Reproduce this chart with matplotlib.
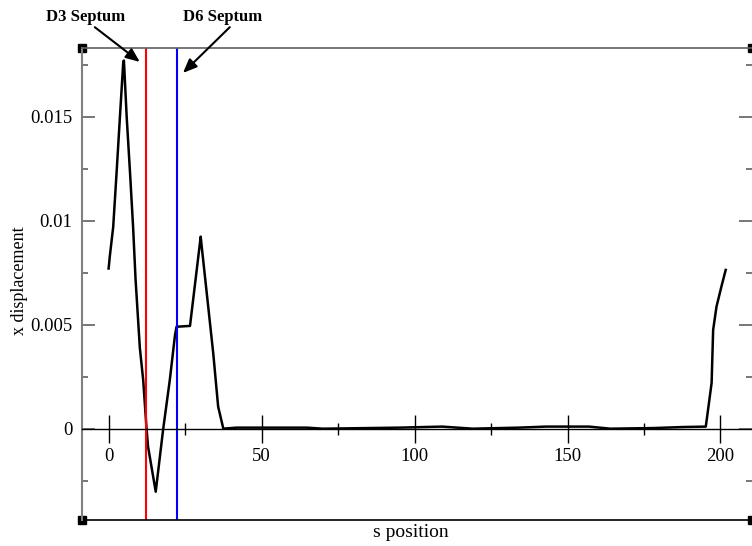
import numpy as np
import matplotlib
matplotlib.use('Agg')
import matplotlib.pyplot as plt
from matplotlib.ticker import MultipleLocator, FixedLocator

plt.rcParams['font.family'] = ['Liberation Serif', 'DejaVu Serif']

# data
s_pos = [0.0, 0.4, 1.5, 2.6, 3.7, 4.8, 5.0, 5.9, 7.0, 8.0, 8.8, 10.2, 11.3,
         12.4, 12.9, 15.4, 17.8, 20.0, 21.7, 22.2, 26.6, 30.1, 30.4, 34.2,
         35.8, 37.5, 41.8, 64.7, 70.0, 95.0, 109.0, 119.0, 134.0, 143.0,
         157.0, 164.0, 178.0, 188.0, 195.2, 197.1, 197.6, 198.7, 200.3, 201.7]
x_disp = [0.0077, 0.0083, 0.0097, 0.0123, 0.0150, 0.01765, 0.0177, 0.0150,
          0.0123, 0.0097, 0.0072, 0.0039, 0.00234, 0.0, -0.00087, -0.00303,
          -0.00006, 0.00234, 0.0045, 0.0049, 0.00494, 0.00923, 0.0088,
          0.00362, 0.00106, 0.0, 0.00005, 0.00005, 0.0, 0.00005, 0.0001,
          0.0, 0.00005, 0.0001, 0.0001, 0.0, 0.00003, 0.00008, 0.0001,
          0.0022, 0.00475, 0.00587, 0.00683, 0.00763]

septum_names = ['D3 Septum', 'D6 Septum']
septum_pos = [12.1, 22.5]
septum_colors = ['red', 'blue']

fig = plt.figure(figsize=(7.52, 5.46), dpi=100)
ax = fig.add_axes([82 / 752, 26 / 546, 670 / 752, 472 / 546])

ax.plot(s_pos, x_disp, color='black', lw=1.8)
for xp, c in zip(septum_pos, septum_colors):
    ax.axvline(xp, color=c, lw=1.5)

ax.set_xlim(-8.7, 210.3)
ax.set_ylim(-0.00439, 0.0183)

# x axis drawn through zero like in grace
ax.spines['bottom'].set_position(('data', 0))
ax.spines['bottom'].set_linewidth(1)
ax.spines['left'].set_color('#808080')
ax.spines['left'].set_linewidth(1.5)
ax.spines['top'].set_color('#606060')
ax.spines['top'].set_linewidth(1.2)
ax.spines['right'].set_visible(False)
ax.plot([0, 1], [0, 0], color='black', lw=1.2, transform=ax.transAxes, clip_on=False)

ax.xaxis.set_major_locator(MultipleLocator(50))
ax.xaxis.set_minor_locator(MultipleLocator(25))
ax.tick_params(axis='x', which='major', direction='inout', length=20, width=1, pad=4, labelsize=13.5)
ax.tick_params(axis='x', which='minor', direction='inout', length=8.6, width=1)

ax.yaxis.set_major_locator(FixedLocator([0, 0.005, 0.01, 0.015]))
ax.set_yticklabels(['0', '0.005', '0.01', '0.015'])
ax.yaxis.set_minor_locator(FixedLocator([-0.0025, 0.0025, 0.0075, 0.0125, 0.0175]))
ax.tick_params(axis='y', which='both', direction='in', right=True, width=1.2,
               color='#606060', labelsize=13.5, pad=7)
ax.tick_params(axis='y', which='major', length=9.4)
ax.tick_params(axis='y', which='minor', length=4.3)

ax.set_xlabel('s position', fontsize=14)
ax.xaxis.set_label_coords(0.491, -0.008)
ax.set_ylabel('x displacement', fontsize=13)
ax.yaxis.set_label_coords(-0.08, 0.508)

# corner markers
for cx, cy in [(0, 0), (0, 1), (1, 1), (1, 0)]:
    ax.plot(cx, cy, 's', color='black', ms=6, transform=ax.transAxes, clip_on=False)

# septum labels with arrows
text_xy = [(-7.4, 0.0198), (37.4, 0.0198)]
tails = [(-4.5, 0.0193), (39.6, 0.0193)]
heads = [(10.2, 0.01763), (24.3, 0.0171)]
for name, txy, t, h in zip(septum_names, text_xy, tails, heads):
    ax.text(txy[0], txy[1], name, fontsize=12, fontweight='bold',
            ha='center', va='center', clip_on=False)
    ax.annotate('', xy=h, xytext=t, annotation_clip=False,
                arrowprops=dict(arrowstyle='-|>,head_length=0.6,head_width=0.25',
                                mutation_scale=14, color='black', lw=1.5,
                                shrinkA=0, shrinkB=0))

fig.savefig('out.png', dpi=100)
